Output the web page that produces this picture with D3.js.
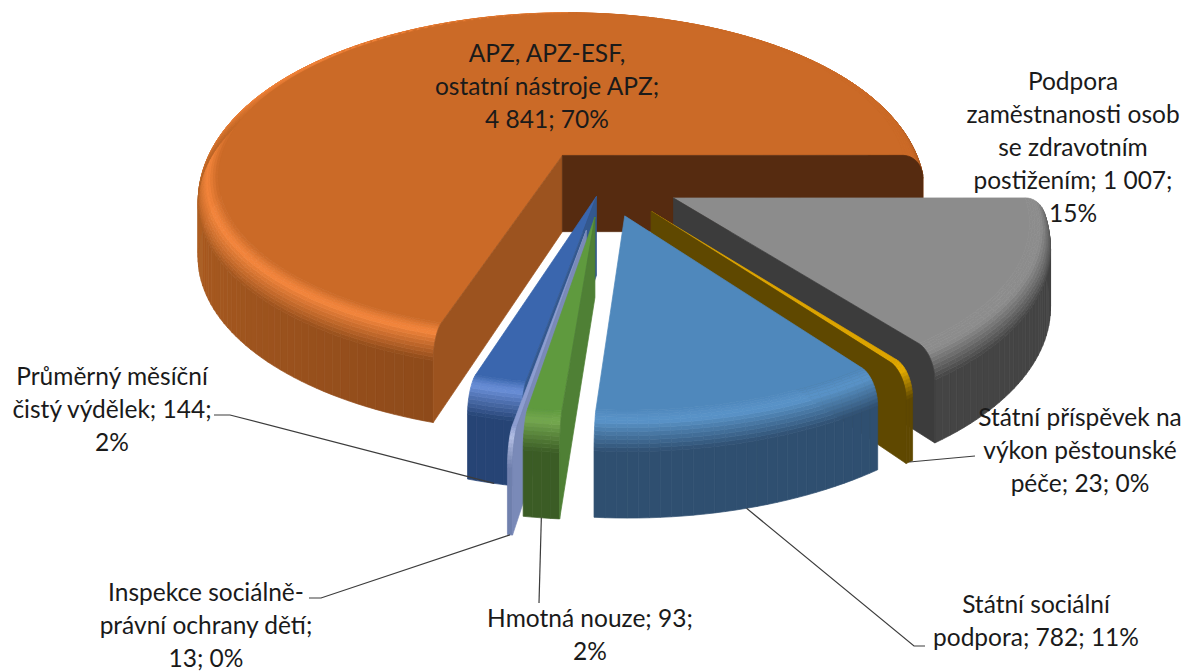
<!DOCTYPE html>
<html>
<head>
<meta charset="utf-8">
<script src="https://cdn.jsdelivr.net/npm/d3@7"></script>
<style>
  body { margin: 0; background: #fff; }
  text { font-family: Lato, "Noto Sans", sans-serif; font-size: 24.5px; fill: #1a1a1a; text-anchor: middle; }
</style>
</head>
<body>
<svg id="chart" width="1184" height="671"></svg>
<script>
const categories = ['APZ, APZ-ESF, ostatní nástroje APZ', 'Podpora zaměstnanosti osob se zdravotním postižením',
  'Státní příspěvek na výkon pěstounské péče', 'Státní sociální podpora', 'Hmotná nouze',
  'Inspekce sociálně-právní ochrany dětí', 'Průměrný měsíční čistý výdělek'];
const values = [4841, 1007, 23, 782, 93, 13, 144];
const labelLines = [
  ['APZ, APZ-ESF,', 'ostatní nástroje APZ;', '4 841; 70%'],
  ['Podpora', 'zaměstnanosti osob', 'se zdravotním', 'postižením; 1 007;', '15%'],
  ['Státní příspěvek na', 'výkon pěstounské', 'péče; 23; 0%'],
  ['Státní sociální', 'podpora; 782; 11%'],
  ['Hmotná nouze; 93;', '2%'],
  ['Inspekce sociálně-', 'právní ochrany dětí;', '13; 0%'],
  ['Průměrný měsíční', 'čistý výdělek; 144;', '2%'],
];

// Look of each slice, same order as values
const explode = [0.195, 0.208, 0.208, 0.2, 0.2, 0.275, 0.085];
const topColor = ['#cb6a27', '#8c8c8c', '#dca400', '#4f88bc', '#5f9a3e', '#8d9dd0', '#3a66ae'];
const hiColor = ['#f5863c', '#8c8c8c', '#e8ae00', '#5a94c9', '#74a84f', '#b5c0e5', '#6a8fd8'];
const wallStart = ['#8e4a1a', '#3f3f3f', '#5f4800', '#1f3349', '#3b5c25', '#7080ad', '#264475'];
const wallEnd = ['#b05f22', '#444444', '#5f4800', '#2f4f70', '#3b5c25', '#7080ad', '#264475'];
const faceStart = ['#9c531f', '#3c3c3c', '#5f4800', '#2f4f70', '#4f8035', '#7a8ab8', '#33588f'];
const faceEnd = ['#562b10', '#3c3c3c', '#5f4800', '#2f4f70', '#4f8035', '#7a8ab8', '#33588f'];
const drawOrder = [0, 1, 2, 3, 6, 5, 4];

// Label placement: centre x, first line y, elbow of the leader line
const labelX = [547, 1073, 1080, 1036, 590, 206, 112];
const labelY = [53, 81, 417, 604, 618, 592, 376];
const lineStep = 33;
const leaders = [null, null, [[975, 456]], [[914, 646], [925, 646]], [[539, 603]], [[321, 598], [309, 598]], [[230, 415], [214, 415]]];

// Projection of the tilted pie
const cx = 604, cy = 182, rx = 368, ry = 172, wallH = 78, persp = 0.15, perspX = 0.13, backLift = -5;
const flatR = 0.945, bevelDrop = 0.3;

function project(u, v, z) {
  const s = 1 / (1 - persp * v);
  return [cx + u * rx / (1 - perspX * v), cy + (v * ry + backLift * v * v) * s + (1 - z) * wallH * s];
}

const pie = d3.pie().sort(null).startAngle(197.5 * Math.PI / 180).endAngle((197.5 + 360) * Math.PI / 180);
const arcs = pie(values).map((d, i) => {
  const a0 = d.startAngle - Math.PI / 2, a1 = d.endAngle - Math.PI / 2, mid = (a0 + a1) / 2;
  return { i, a0, a1, mid, ox: explode[i] * Math.cos(mid), oy: explode[i] * Math.sin(mid) };
});

function rim(arc, a, r, z) {
  return project(arc.ox + r * Math.cos(a), arc.oy + r * Math.sin(a), z);
}

// bevel profile, t from 0 (flat top) to 1 (wall)
function bevel(t) {
  return {
    r: flatR + (1 - flatR) * Math.sin(t * Math.PI / 2),
    z: 1 - bevelDrop * (1 - Math.cos(t * Math.PI / 2)),
  };
}

function slicePatches(arc) {
  const i = arc.i, walls = [], rims = [], patches = [];
  const step = 1.5 * Math.PI / 180;
  const n = Math.max(2, Math.ceil((arc.a1 - arc.a0) / step));
  const angles = d3.range(n + 1).map((k) => arc.a0 + (arc.a1 - arc.a0) * k / n);
  const frontEnd = Math.min(arc.a1, Math.PI);
  const wallColor = d3.scaleLinear().domain([arc.a0, Math.max(frontEnd, arc.a0 + 0.01)])
    .range([wallStart[i], wallEnd[i]]).clamp(true);
  const bands = d3.range(13).map((k) => k / 12);

  d3.pairs(angles).forEach(([a, b]) => {
    const mid = (a + b) / 2;
    const side = wallColor(mid);
    walls.push({
      pts: [rim(arc, a, 1, 1 - bevelDrop), rim(arc, b, 1, 1 - bevelDrop), rim(arc, b, 1, 0), rim(arc, a, 1, 0)],
      fill: side,
    });
    // upper left of the rim catches the light, upper right stays dark
    const back = Math.sin(mid) < 0;
    const lit = back && Math.cos(mid) < 0 ? Math.min(1, -Math.sin(mid) * 2) : 0;
    const ramp = back && Math.cos(mid) > 0
      ? d3.scaleLinear().domain([0, 0.35, 1]).range([topColor[i], topColor[i], wallStart[i]])
      : d3.scaleLinear().domain([0, 0.35, 1]).range([topColor[i], hiColor[i], d3.interpolateRgb(side, topColor[i])(lit)]);
    // outer bands first so the inner ones lie on top
    d3.pairs(bands).reverse().forEach(([t0, t1]) => {
      const p0 = bevel(t0), p1 = bevel(t1);
      rims.push({
        pts: [rim(arc, a, p0.r, p0.z), rim(arc, b, p0.r, p0.z), rim(arc, b, p1.r, p1.z), rim(arc, a, p1.r, p1.z)],
        fill: ramp((t0 + t1) / 2),
      });
    });
  });
  patches.push(...walls, ...rims);

  // flat top
  patches.push({
    pts: [project(arc.ox, arc.oy, 1), ...angles.map((a) => rim(arc, a, flatR, 1))],
    fill: topColor[i],
  });

  // cut faces that look towards the viewer
  const face = (a, fill) => patches.push({
    pts: [project(arc.ox, arc.oy, 1), ...bands.map((t) => { const p = bevel(t); return rim(arc, a, p.r, p.z); }),
      rim(arc, a, 1, 0), project(arc.ox, arc.oy, 0)],
    fill,
  });
  if (-Math.cos(arc.a0) > 0) face(arc.a0, faceStart[i]);
  if (Math.cos(arc.a1) > 0) face(arc.a1, faceEnd[i]);
  return patches;
}

const svg = d3.select('#chart');
const line = d3.line();

drawOrder.forEach((i) => {
  svg.append('g')
    .attr('class', 'slice')
    .attr('data-name', categories[i])
    .selectAll('path')
    .data(slicePatches(arcs[i]))
    .join('path')
    .attr('d', (d) => line(d.pts) + 'Z')
    .attr('fill', (d) => d.fill)
    .attr('stroke', (d) => d.fill)
    .attr('stroke-width', 0.7)
    .attr('stroke-linejoin', 'round');
});

// Leader lines start at the bottom of the slice rim
arcs.forEach((arc) => {
  if (!leaders[arc.i]) return;
  svg.append('path')
    .attr('d', line([rim(arc, arc.mid, 1, 0), ...leaders[arc.i]]))
    .attr('fill', 'none')
    .attr('stroke', '#3c3c3c')
    .attr('stroke-width', 1.2);
});

// Data labels
labelLines.forEach((lines, i) => {
  svg.append('g')
    .selectAll('text')
    .data(lines)
    .join('text')
    .attr('x', labelX[i])
    .attr('y', (d, k) => labelY[i] + k * lineStep)
    .attr('dy', '0.35em')
    .text((d) => d);
});
</script>
</body>
</html>
